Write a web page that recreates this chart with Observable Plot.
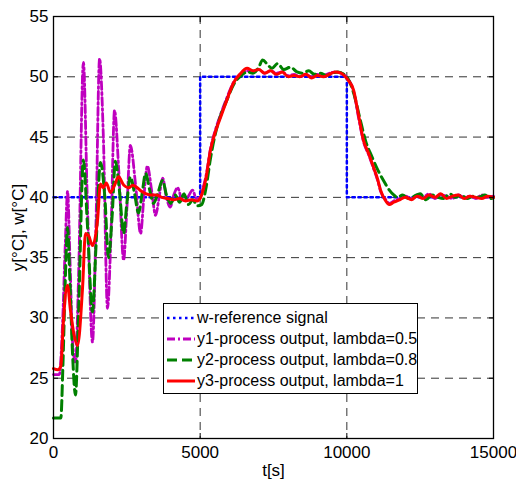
<!DOCTYPE html>
<html>
<head>
<meta charset="utf-8">
<script src="https://cdn.jsdelivr.net/npm/d3@7"></script>
<script src="https://cdn.jsdelivr.net/npm/@observablehq/plot@0.6"></script>
<style>
  html, body { margin: 0; padding: 0; background: white; }
  #wrap { position: relative; width: 516px; height: 479px; font-family: "Liberation Sans", Arial, sans-serif; }
  #legend { position: absolute; left: 163px; top: 303px; width: 255px; height: 91px; box-sizing: border-box;
    border: 1px solid black; background: white; padding-top: 3px; }
  #legend .row { height: 21px; display: flex; align-items: center; font-size: 16px; white-space: nowrap; }
  #legend svg { margin-left: 3px; margin-right: 2px; flex: none; }
</style>
</head>
<body>
<div id="wrap"></div>
<script>
// ---- data ----
const xTicks = [0, 5000, 10000, 15000];
const yTicks = [20, 25, 30, 35, 40, 45, 50, 55];
const xGrid = [5000, 10000];
const yGrid = [25, 30, 35, 40, 45, 50];

// w - reference signal (step)
const tW = [0, 5000, 10000, 15000];
const wVals = [40, 50, 40, 40];

// y1 - lambda = 0.5
const tM = [0,200,300,400,480,560,650,750,850,1020,1150,1330,1450,1570,1700,1840,1960,2080,2230,2390,2500,2620,2800,2970,3080,3200,3350,3480,3600,3720,3850,3980,4100,4230,4350,4480,4600,4740,4870,5000,5100,5200,5350,5520,5700,5900,6150,6400,6600,6800,7000,7200,7400,7600,7800,8000,8200,8400,8600,8800,9000,9200,9400,9600,9800,9950,10050,10230,10400,10570,10750,10910,11050,11150,11300,11450,11600,11800,12000,12200,12400,12600,12800,13000,13200,13400,13600,13800,14000,14200,14400,14600,14800,15000];
const y1Vals = [25.3,25.3,29,36,40.5,35,28,26.3,33,51.2,40,28.0,38,51.5,45,30.8,37,47.2,42,34.8,39,44.3,41,37.0,40,42.6,40.5,38.5,40,41.6,40,39.2,40.2,40.8,40,39.7,40.1,40.6,39.9,40.0,40.8,41.8,44.0,45.6,46.9,48.2,49.6,50.3,50.5,50.4,50.6,50.3,50.5,50.3,50.4,50.1,50.2,50.0,50.2,50.0,50.2,50.1,50.3,50.4,50.3,50.1,49.8,48.8,46.6,44.6,43.5,42.4,41.4,40.5,39.9,39.5,39.7,39.9,40.1,39.9,40.2,40.0,40.3,39.9,40.2,40.1,39.9,40.2,40.0,40.1,39.9,40.2,40.0,40.1];

// y2 - lambda = 0.8
const tG = [0,250,320,400,480,560,650,750,850,1020,1150,1330,1450,1600,1750,1875,2000,2110,2250,2390,2500,2620,2750,2900,3020,3140,3280,3410,3550,3720,3850,4000,4150,4300,4450,4600,4750,4900,5050,5200,5350,5520,5700,5900,6150,6400,6600,6800,7000,7130,7300,7450,7640,7850,8080,8300,8500,8700,8900,9100,9300,9500,9700,9900,10050,10250,10450,10650,10850,11050,11250,11450,11600,11730,11900,12100,12300,12500,12700,12900,13100,13300,13500,13700,13900,14100,14300,14500,14700,14900,15000];
const y2Vals = [21.7,21.7,26,33,37.5,33,27,23.6,30,43.1,38,30.5,36,42.9,40,35.0,38.5,43.0,40.5,37.0,39.5,41.7,40.5,38.7,40.3,42.0,40.6,39.5,40.3,41.4,40.2,39.5,40.2,39.6,40.3,39.4,39.8,39.3,39.4,40.8,43.2,45.3,46.8,48.0,49.4,50.1,50.4,50.3,50.8,51.4,51.0,50.7,51.1,50.6,50.8,50.4,50.3,50.5,50.2,50.3,50.1,50.3,50.4,50.2,49.8,48.5,46.5,44.6,43.4,42.3,41.4,40.6,40.2,40.0,40.2,39.9,40.1,40.3,39.8,40.2,40.0,39.9,40.3,40.0,40.2,39.9,40.1,40.0,40.2,39.9,40.0];

// y3 - lambda = 1
const tR = [0,150,250,340,477,580,700,818,990,1090,1200,1330,1500,1600,1700,1800,1940,2080,2215,2400,2560,2700,2800,3000,3140,3300,3500,3700,3900,4100,4300,4500,4700,4900,5000,5100,5200,5350,5500,5690,5900,6140,6350,6600,6800,7000,7200,7400,7600,7800,8000,8200,8400,8600,8800,9000,9200,9400,9600,9800,9950,10050,10230,10400,10570,10750,10910,11050,11150,11300,11450,11600,11800,12000,12200,12400,12600,12800,13000,13200,13400,13600,13800,14000,14200,14400,14600,14800,15000];
const y3Vals = [25.8,25.7,26.0,29.8,32.7,30.6,28.6,27.7,32.5,37.0,36.8,36.0,38.1,41.1,40.8,41.2,40.4,41.0,41.7,41.0,40.8,41.0,40.9,40.5,40.3,40.2,40.2,40.0,39.9,39.8,39.9,39.7,39.8,39.7,39.9,40.6,41.6,43.9,45.3,46.6,48.0,49.5,50.2,50.7,50.5,50.6,50.3,50.5,50.2,50.4,50.0,50.1,50.0,50.2,49.9,50.1,50.0,50.2,50.4,50.3,50.0,49.7,48.9,46.8,44.7,43.6,42.5,41.5,40.6,39.8,39.4,39.6,39.8,40.0,39.8,40.1,39.9,40.2,40.0,40.3,39.9,40.1,40.2,39.9,40.1,40.0,39.9,40.1,40.0];

const seriesNames = ["w-reference signal", "y1-process output, lambda=0.5", "y2-process output, lambda=0.8", "y3-process output, lambda=1"];
const seriesColors = ["#0000ff", "#bf00bf", "#008000", "#ff0000"];
const seriesDash = ["2.5,3.5", "8,3,2,3", "10,5", null];
const seriesWidth = [2.5, 2.8, 3, 3];

// ---- build tables ----
const zip = (ts, vs) => ts.map((t, i) => ({t, v: vs[i]}));
const dW = zip(tW, wVals), d1 = zip(tM, y1Vals), d2 = zip(tG, y2Vals), d3 = zip(tR, y3Vals);

const font = '"Liberation Sans", Arial, sans-serif';
const chart = Plot.plot({
  width: 516, height: 479,
  marginLeft: 53, marginRight: 23, marginTop: 16, marginBottom: 41,
  style: {fontFamily: font, fontSize: "17px", background: "white", color: "black", overflow: "visible"},
  x: {domain: [0, 15000]},
  y: {domain: [20, 55]},
  marks: [
    Plot.gridX(xGrid, {stroke: "#333", strokeOpacity: 1, strokeDasharray: "8,6", strokeWidth: 1}),
    Plot.gridY(yGrid, {stroke: "#333", strokeOpacity: 1, strokeDasharray: "8,6", strokeWidth: 1}),
    Plot.line(dW, {x: "t", y: "v", curve: "step-after", stroke: seriesColors[0], strokeWidth: seriesWidth[0], strokeDasharray: seriesDash[0]}),
    Plot.line(d1, {x: "t", y: "v", curve: "monotone-x", stroke: seriesColors[1], strokeWidth: seriesWidth[1], strokeDasharray: seriesDash[1]}),
    Plot.line(d2, {x: "t", y: "v", curve: "monotone-x", stroke: seriesColors[2], strokeWidth: seriesWidth[2], strokeDasharray: seriesDash[2]}),
    Plot.line(d3, {x: "t", y: "v", curve: "monotone-x", stroke: seriesColors[3], strokeWidth: seriesWidth[3]}),
    Plot.axisX(xTicks, {anchor: "bottom", tickSize: -5, tickPadding: 12, tickFormat: d => String(d), label: "t[s]", labelAnchor: "center", labelOffset: 37, labelArrow: "none"}),
    Plot.axisX(xTicks, {anchor: "top", tickSize: -5, tickFormat: () => "", label: null}),
    Plot.axisY(yTicks, {anchor: "left", tickSize: -5, tickPadding: 10, tickFormat: d => String(d), label: "y[°C], w[°C]", labelAnchor: "center", labelOffset: 42, labelArrow: "none"}),
    Plot.axisY(yTicks, {anchor: "right", tickSize: -5, tickFormat: () => "", label: null}),
    Plot.frame({stroke: "black", strokeWidth: 1.3})
  ]
});
const wrap = document.getElementById("wrap");
wrap.appendChild(chart);

// legend
const legend = document.createElement("div");
legend.id = "legend";
seriesNames.forEach((name, i) => {
  const row = document.createElement("div");
  row.className = "row";
  const ns = "http://www.w3.org/2000/svg";
  const s = document.createElementNS(ns, "svg");
  s.setAttribute("width", 28); s.setAttribute("height", 8);
  const ln = document.createElementNS(ns, "line");
  ln.setAttribute("x1", 0); ln.setAttribute("x2", 28); ln.setAttribute("y1", 4); ln.setAttribute("y2", 4);
  ln.setAttribute("stroke", seriesColors[i]);
  ln.setAttribute("stroke-width", seriesWidth[i]);
  if (seriesDash[i]) ln.setAttribute("stroke-dasharray", seriesDash[i]);
  s.appendChild(ln);
  row.appendChild(s);
  const sp = document.createElement("span");
  sp.textContent = name;
  row.appendChild(sp);
  legend.appendChild(row);
});
wrap.appendChild(legend);
</script>
</body>
</html>
